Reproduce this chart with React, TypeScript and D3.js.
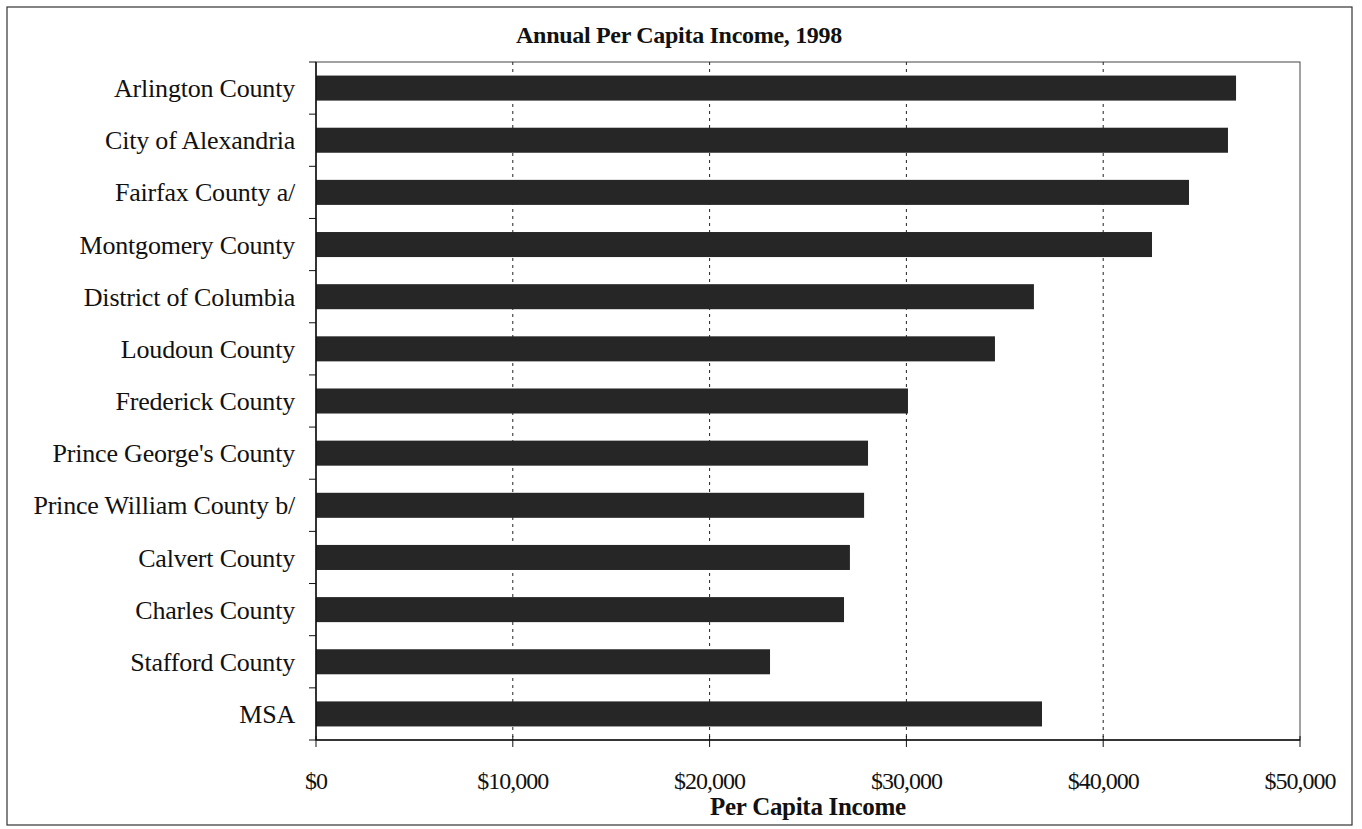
import React from "react";
import * as d3 from "d3";

const categories = [
  "Arlington County",
  "City of Alexandria",
  "Fairfax County a/",
  "Montgomery County",
  "District of Columbia",
  "Loudoun County",
  "Frederick County",
  "Prince George's County",
  "Prince William County b/",
  "Calvert County",
  "Charles County",
  "Stafford County",
  "MSA",
];
const incomes = [46750, 46340, 44360, 42480, 36480, 34500, 30080, 28050, 27850, 27130, 26830, 23070, 36890];
const xTicks = [0, 10000, 20000, 30000, 40000, 50000];
const title = "Annual Per Capita Income, 1998";
const xTitle = "Per Capita Income";

export default function App() {
  const W = 1362, H = 829;
  const left = 316, right = 1300, top = 62, bottom = 740;
  const x = d3.scaleLinear().domain([0, 50000]).range([left, right]);
  const y = d3.scaleBand<string>().domain(categories).range([top, bottom]).paddingInner(0.52).paddingOuter(0.26);
  const fmt = (v: number) => "$" + d3.format(",")(v);
  const font = "'Liberation Serif', 'Times New Roman', serif";
  const step = y.step();
  return (
    <svg width={W} height={H} style={{ position: "absolute", left: 0, top: 0, background: "#fff" }} fontFamily={font}>
      <rect x={7} y={7} width={1345} height={818} fill="#fff" stroke="#333" strokeWidth={1.2} />
      <text x={679} y={43} textAnchor="middle" fontSize={24} fontWeight="bold" fill="#111" letterSpacing={-0.3}>{title}</text>
      {/* plot frame */}
      <rect x={left} y={top} width={right - left} height={bottom - top} fill="none" stroke="#444" strokeWidth={1} />
      {xTicks.slice(1, -1).map((t) => (
        <line key={"g" + t} x1={x(t)} x2={x(t)} y1={top} y2={bottom} stroke="#222" strokeWidth={1} strokeDasharray="3,4" />
      ))}
      {categories.map((c, i) => (
        <rect key={c} x={x(0)} y={y(c)!} width={x(incomes[i]) - x(0)} height={y.bandwidth()} fill="#262626" />
      ))}
      {/* axes */}
      <line x1={left} x2={left} y1={top} y2={bottom} stroke="#111" strokeWidth={1.5} />
      <line x1={left} x2={right} y1={bottom} y2={bottom} stroke="#111" strokeWidth={1.5} />
      {d3.range(categories.length + 1).map((i) => (
        <line key={"yt" + i} x1={left - 7} x2={left} y1={top + i * step} y2={top + i * step} stroke="#111" strokeWidth={1} />
      ))}
      {xTicks.map((t) => (
        <line key={"xt" + t} x1={x(t)} x2={x(t)} y1={bottom - 4} y2={bottom + 7} stroke="#111" strokeWidth={1} />
      ))}
      {categories.map((c) => (
        <text key={"l" + c} x={295} y={y(c)! + y.bandwidth() / 2} dy="0.35em" textAnchor="end" fontSize={26} fill="#111" letterSpacing={-0.2}>{c}</text>
      ))}
      {xTicks.map((t) => (
        <text key={"xl" + t} x={x(t)} y={789} textAnchor="middle" fontSize={24} fill="#111" letterSpacing={-1}>{fmt(t)}</text>
      ))}
      <text x={808} y={815} textAnchor="middle" fontSize={25} fontWeight="bold" fill="#111" letterSpacing={-0.3}>{xTitle}</text>
    </svg>
  );
}
